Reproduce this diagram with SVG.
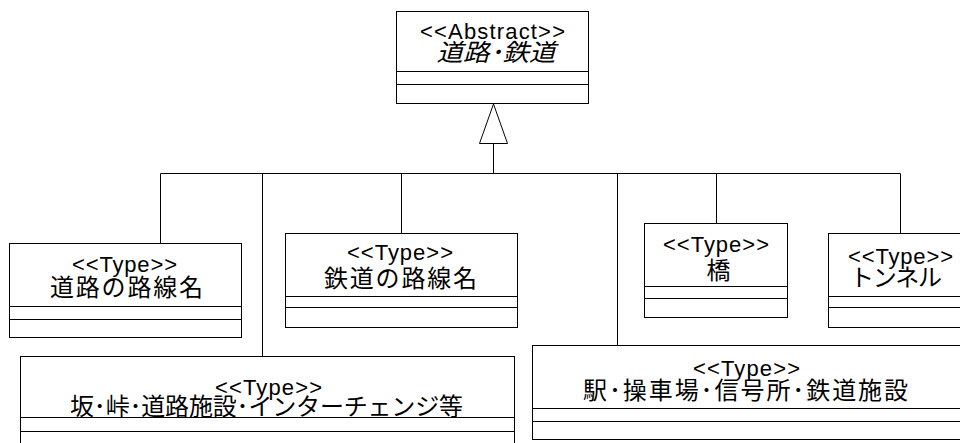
<svg xmlns="http://www.w3.org/2000/svg" width="960" height="443" viewBox="0 0 960 443">
<style>
.box{fill:#fff;stroke:#000;stroke-width:1}
.sep{stroke:#000;stroke-width:1}
.st{font-family:"Liberation Sans",Arial,sans-serif;font-size:22px;fill:#000;text-anchor:middle}
.jp{font-family:"Noto Sans CJK JP","Noto Sans CJK SC",sans-serif;font-size:24px;fill:#000;text-anchor:middle}
.con{stroke:#000;stroke-width:1;fill:none}
</style>
<g id="connectors">
<polyline class="con" points="160.5,243 160.5,173.5 900.5,173.5 900.5,233"/>
<line class="con" x1="262.5" y1="173.5" x2="262.5" y2="356"/>
<line class="con" x1="401.5" y1="173.5" x2="401.5" y2="233"/>
<line class="con" x1="617.5" y1="173.5" x2="617.5" y2="345"/>
<line class="con" x1="716.5" y1="173.5" x2="716.5" y2="223"/>
<line class="con" x1="493.5" y1="143" x2="493.5" y2="173.5"/>
<polygon points="493.5,104 479.5,143.5 507.5,143.5" fill="#fff" stroke="#000" stroke-width="1"/>
</g>
<g id="abstract">
<rect class="box" x="396.5" y="11.5" width="192" height="92"/>
<line class="sep" x1="396.5" y1="71.5" x2="588.5" y2="71.5"/>
<line class="sep" x1="396.5" y1="84.5" x2="588.5" y2="84.5"/>
<text class="st" x="492.5" y="39" textLength="145" lengthAdjust="spacing">&lt;&lt;Abstract&gt;&gt;</text>
<text class="jp" x="496" y="61" font-size="22" font-style="italic" textLength="119" lengthAdjust="spacingAndGlyphs">道路･鉄道</text>
</g>
<g id="road-route">
<rect class="box" x="9.5" y="243.5" width="232" height="94"/>
<line class="sep" x1="9.5" y1="306.5" x2="241.5" y2="306.5"/>
<line class="sep" x1="9.5" y1="319.5" x2="241.5" y2="319.5"/>
<text class="st" x="124.5" y="272" textLength="105" lengthAdjust="spacing">&lt;&lt;Type&gt;&gt;</text>
<text class="jp" x="126.5" y="296" textLength="153" lengthAdjust="spacing">道路の路線名</text>
</g>
<g id="rail-route">
<rect class="box" x="285.5" y="233.5" width="232" height="94"/>
<line class="sep" x1="285.5" y1="296.5" x2="517.5" y2="296.5"/>
<line class="sep" x1="285.5" y1="307.5" x2="517.5" y2="307.5"/>
<text class="st" x="400" y="260" textLength="106" lengthAdjust="spacing">&lt;&lt;Type&gt;&gt;</text>
<text class="jp" x="400.5" y="287" textLength="153" lengthAdjust="spacing">鉄道の路線名</text>
</g>
<g id="bridge">
<rect class="box" x="644.5" y="223.5" width="143" height="94"/>
<line class="sep" x1="644.5" y1="286.5" x2="787.5" y2="286.5"/>
<line class="sep" x1="644.5" y1="298.5" x2="787.5" y2="298.5"/>
<text class="st" x="716" y="252" textLength="106" lengthAdjust="spacing">&lt;&lt;Type&gt;&gt;</text>
<text class="jp" x="718.5" y="279" font-size="26">橋</text>
</g>
<g id="tunnel">
<rect class="box" x="828.5" y="233.5" width="150" height="94"/>
<line class="sep" x1="828.5" y1="296.5" x2="978.5" y2="296.5"/>
<line class="sep" x1="828.5" y1="307.5" x2="978.5" y2="307.5"/>
<text class="st" x="900.5" y="264" textLength="105" lengthAdjust="spacing">&lt;&lt;Type&gt;&gt;</text>
<text class="jp" x="896" y="286" textLength="92" lengthAdjust="spacing">トンネル</text>
</g>
<g id="road-facility">
<rect class="box" x="20.5" y="356.5" width="494" height="100"/>
<line class="sep" x1="20.5" y1="417.5" x2="514.5" y2="417.5"/>
<line class="sep" x1="20.5" y1="431.5" x2="514.5" y2="431.5"/>
<text class="st" x="268.5" y="395" textLength="107" lengthAdjust="spacing">&lt;&lt;Type&gt;&gt;</text>
<text class="jp" x="266.5" y="415" font-size="20" textLength="393" lengthAdjust="spacing">坂･峠･道路施設･インターチェンジ等</text>
</g>
<g id="rail-facility">
<rect class="box" x="532.5" y="345.5" width="429" height="94"/>
<line class="sep" x1="532.5" y1="408.5" x2="961.5" y2="408.5"/>
<line class="sep" x1="532.5" y1="421.5" x2="961.5" y2="421.5"/>
<text class="st" x="746.5" y="376" textLength="107" lengthAdjust="spacing">&lt;&lt;Type&gt;&gt;</text>
<text class="jp" x="745.5" y="399" font-size="23" textLength="325" lengthAdjust="spacing">駅･操車場･信号所･鉄道施設</text>
</g>
</svg>
